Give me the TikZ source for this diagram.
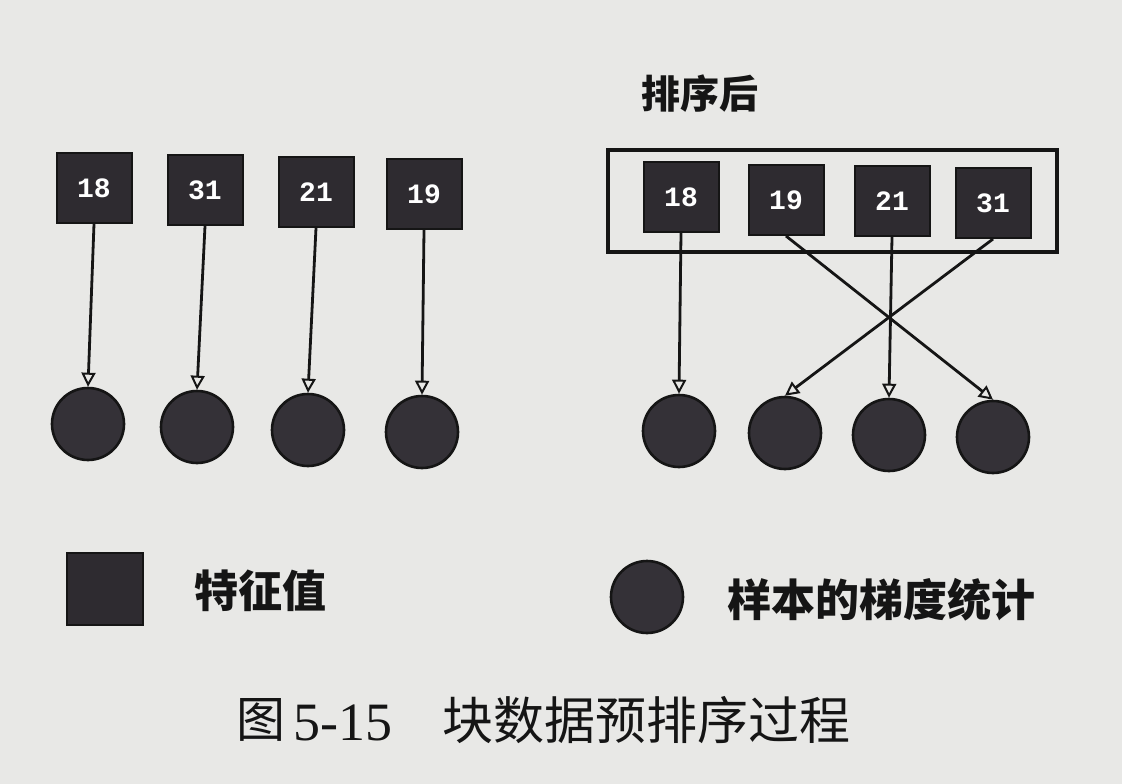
\documentclass[tikz,border=0pt]{standalone}
\usepackage{fontspec}
\setmainfont{Liberation Serif}
\newfontfamily\cjk{Noto Sans CJK SC}
\newfontfamily\numfont{Liberation Mono}
\usetikzlibrary{arrows.meta}
\definecolor{paper}{HTML}{E8E8E6}
\definecolor{sqfill}{HTML}{2E2B30}
\definecolor{cfill}{HTML}{343137}
\definecolor{ink}{HTML}{151515}
\tikzset{
  sq/.style={draw=ink, line width=2pt, fill=sqfill, minimum width=75pt, minimum height=70pt,
    inner sep=0pt, text=white, font=\numfont\bfseries\fontsize{28}{28}\selectfont},
  gc/.style={circle, draw=ink, line width=2.6pt, fill=cfill, minimum size=72pt, inner sep=0pt},
  arr/.style={draw=ink, line width=2.8pt, -{Triangle[open, length=14pt, width=14pt, line width=2pt]}},
  lab/.style={text=ink, inner sep=0pt, font=\cjk\bfseries\fontsize{#1}{#1}\selectfont},
  captext/.style={text=ink, inner sep=0pt}
}
\begin{document}
\begin{tikzpicture}[x=1pt,y=-1pt]
\useasboundingbox (0,0) rectangle (1122,784);
\fill[paper] (0,0) rectangle (1122,784);

% left: unsorted
\node[sq] (a1) at (94,188) {18};
\node[sq] (a2) at (205,190) {31};
\node[sq] (a3) at (316,192) {21};
\node[sq] (a4) at (424,194) {19};
\node[gc] (g1) at (88,424) {};
\node[gc] (g2) at (197,427) {};
\node[gc] (g3) at (308,430) {};
\node[gc] (g4) at (422,432) {};
\draw[arr] (a1.south) -- (g1.north);
\draw[arr] (a2.south) -- (g2.north);
\draw[arr] (a3.south) -- (g3.north);
\draw[arr] (a4.south) -- (g4.north);

% right: sorted
\node[lab=39] (title) at (700,94) {排序后};
\node[draw=ink, line width=3.2pt, minimum width=449pt, minimum height=102pt, inner sep=0pt] (box) at (832.5,201) {};
\node[sq] (b1) at (681,197) {18};
\node[sq] (b2) at (786,200) {19};
\node[sq] (b3) at (892,201) {21};
\node[sq] (b4) at (993,203) {31};
\node[gc] (h1) at (679,431) {};
\node[gc] (h2) at (785,433) {};
\node[gc] (h3) at (889,435) {};
\node[gc] (h4) at (993,437) {};
\draw[arr] (b1.south) -- (h1.north);
\draw[arr] (b2.south) -- (h4.north);
\draw[arr] (b3.south) -- (h3.north);
\draw[arr] (b4.south) -- (h2.north);

% legend
\node[sq, minimum width=76pt, minimum height=72pt] (lsq) at (105,589) {};
\node[lab=44] (lsqt) at (260,591) {特征值};
\node[gc] (lc) at (647,597) {};
\node[lab=44] (lct) at (881,600) {样本的梯度统计};

% caption
\node[captext, font=\cjk\fontsize{49}{49}\selectfont] (c1) at (261,720) {图};
\node[captext, font=\fontsize{54}{54}\selectfont] (c2) at (343,723) {5-15};
\node[captext, font=\cjk\fontsize{51}{51}\selectfont] (c3) at (646,720) {块数据预排序过程};
\end{tikzpicture}
\end{document}
